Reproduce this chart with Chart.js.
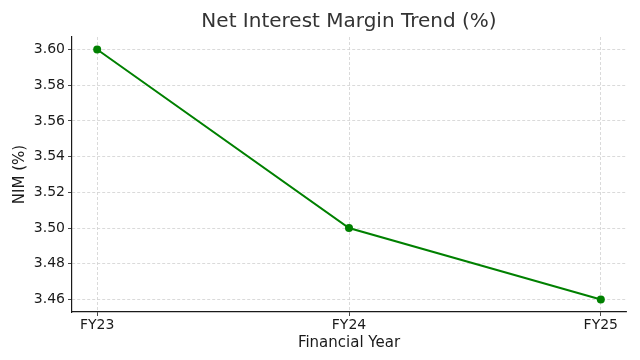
<!DOCTYPE html>
<html>
<head>
<meta charset="utf-8">
<script src="https://cdn.jsdelivr.net/npm/chart.js@4"></script>
<style>
  html, body { margin: 0; padding: 0; background: #fff; }
  #wrap { width: 640px; height: 360px; }
</style>
</head>
<body>
<div id="wrap"><canvas id="nimChart" width="640" height="360"></canvas></div>
<script>
// data
const years = ['FY23', 'FY24', 'FY25'];
const nimValues = [3.60, 3.50, 3.46];
const yTicks = [3.46, 3.48, 3.50, 3.52, 3.54, 3.56, 3.58, 3.60];
const chartTitle = 'Net Interest Margin Trend (%)';

const textColor = '#1a1a1a';
const gridColor = '#d0d0d0';

// title centred over the plot area, like the reference
const axesTitle = {
    id: 'axesTitle',
    afterDraw(chart) {
        const c = chart.ctx, a = chart.chartArea;
        c.save();
        c.fillStyle = '#333';
        c.font = '20px "DejaVu Sans"';
        c.textAlign = 'center';
        c.textBaseline = 'middle';
        c.fillText(chartTitle, (a.left + a.right) / 2, 22);
        c.restore();
    }
};

const ctx = document.getElementById('nimChart').getContext('2d');
const nimChart = new Chart(ctx, {
    type: 'line',
    data: {
        datasets: [{
            label: 'NIM (%)',
            data: nimValues.map((v, i) => ({ x: i, y: v })),
            borderColor: '#008000',
            backgroundColor: '#008000',
            borderWidth: 2,
            pointRadius: 4,
            pointBackgroundColor: '#008000',
            pointBorderWidth: 0,
            tension: 0
        }]
    },
    plugins: [axesTitle],
    options: {
        responsive: false,
        animation: false,
        layout: { padding: { left: 0, right: 14, top: 37, bottom: 0 } },
        plugins: {
            legend: { display: false },
            tooltip: { enabled: false },
            title: { display: false }
        },
        scales: {
            x: {
                type: 'linear',
                min: -0.1,
                max: 2.1,
                afterBuildTicks: (scale) => {
                    scale.ticks = years.map((y, i) => ({ value: i }));
                },
                afterFit: (scale) => { scale.height = 48; },
                ticks: {
                    color: textColor,
                    font: { family: 'DejaVu Sans', size: 14 },
                    padding: 1,
                    maxRotation: 0,
                    callback: (v) => years[v]
                },
                grid: {
                    color: gridColor,
                    tickColor: textColor,
                    tickLength: 4,
                    tickBorderDash: [],
                    lineWidth: 0.8
                },
                border: { display: true, color: textColor, width: 1.2, dash: [3, 2] },
                title: {
                    display: true,
                    text: 'Financial Year',
                    color: textColor,
                    font: { family: 'DejaVu Sans', size: 15 },
                    padding: { top: 0, bottom: 8 }
                }
            },
            y: {
                min: 3.453,
                max: 3.607,
                afterBuildTicks: (scale) => {
                    scale.ticks = yTicks.map(v => ({ value: v }));
                },
                afterFit: (scale) => { scale.width = 72; },
                ticks: {
                    color: textColor,
                    font: { family: 'DejaVu Sans', size: 14 },
                    padding: 3,
                    callback: (v) => Number(v).toFixed(2)
                },
                grid: {
                    color: gridColor,
                    tickColor: textColor,
                    tickLength: 4,
                    tickBorderDash: [],
                    lineWidth: 0.8
                },
                border: { display: true, color: textColor, width: 1.2, dash: [3, 2] },
                title: {
                    display: true,
                    text: 'NIM (%)',
                    color: textColor,
                    font: { family: 'DejaVu Sans', size: 15 },
                    padding: { top: 11, bottom: 0 }
                }
            }
        }
    }
});
</script>
</body>
</html>
